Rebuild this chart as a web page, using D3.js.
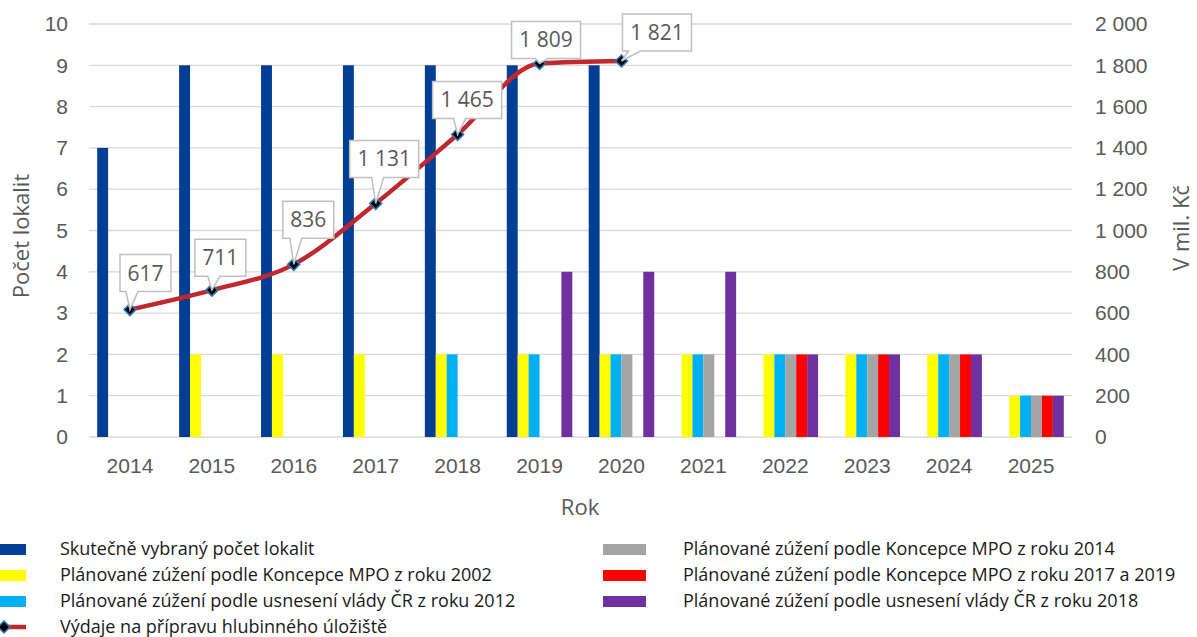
<!DOCTYPE html>
<html>
<head>
<meta charset="utf-8">
<script src="https://cdn.jsdelivr.net/npm/d3@7"></script>
<style>
  body { margin: 0; background: #fff; }
  svg { display: block; font-family: "Open Sans", "Noto Sans", sans-serif; }
</style>
</head>
<body>
<div id="root"></div>
<script>
const years = ["2014", "2015", "2016", "2017", "2018", "2019", "2020", "2021", "2022", "2023", "2024", "2025"];

const seriesNames = [
  "Skutečně vybraný počet lokalit",
  "Plánované zúžení podle Koncepce MPO z roku 2002",
  "Plánované zúžení podle usnesení vlády ČR z roku 2012",
  "Plánované zúžení podle Koncepce MPO z roku 2014",
  "Plánované zúžení podle Koncepce MPO z roku 2017 a 2019",
  "Plánované zúžení podle usnesení vlády ČR z roku 2018"
];
const actual   = [7, 9, 9, 9, 9, 9, 9, null, null, null, null, null];
const mpo2002  = [null, 2, 2, 2, 2, 2, 2, 2, 2, 2, 2, 1];
const vlada2012 = [null, null, null, null, 2, 2, 2, 2, 2, 2, 2, 1];
const mpo2014  = [null, null, null, null, null, null, 2, 2, 2, 2, 2, 1];
const mpo2017  = [null, null, null, null, null, null, null, null, 2, 2, 2, 1];
const vlada2018 = [null, null, null, null, null, 4, 4, 4, 2, 2, 2, 1];
const barSeries = [actual, mpo2002, vlada2012, mpo2014, mpo2017, vlada2018];
const colors = ["#023f94", "#ffff00", "#00b0f0", "#a5a5a5", "#ff0000", "#7030a0"];

const lineName = "Výdaje na přípravu hlubinného úložiště";
const spending = [617, 711, 836, 1131, 1465, 1809, 1821];
const leftTicks = [0, 1, 2, 3, 4, 5, 6, 7, 8, 9, 10];
const rightTicks = [0, 200, 400, 600, 800, 1000, 1200, 1400, 1600, 1800, 2000];

const W = 1197, H = 637;
const plotLeft = 89, plotRight = 1072, plotTop = 24, plotBottom = 437;

const svg = d3.select("#root").append("svg")
  .attr("width", W)
  .attr("height", H);

const x0 = d3.scaleBand().domain(years).range([plotLeft, plotRight]);
const x1 = d3.scaleBand().domain(d3.range(6))
  .range([x0.bandwidth() * 0.1, x0.bandwidth() * 0.9]);
const y = d3.scaleLinear().domain([0, 10]).range([plotBottom, plotTop]);
const y2 = d3.scaleLinear().domain([0, 2000]).range([plotBottom, plotTop]);

const fmt = v => d3.format(",")(v).replace(/,/g, "\u00a0");

// gridlines
svg.append("g")
  .selectAll("line")
  .data(leftTicks)
  .join("line")
  .attr("x1", plotLeft)
  .attr("x2", plotRight)
  .attr("y1", d => y(d))
  .attr("y2", d => y(d))
  .attr("stroke", "#d9d9d9")
  .attr("stroke-width", 1.3);

// bars
barSeries.forEach((s, si) => {
  svg.append("g")
    .selectAll("rect")
    .data(years.map((yr, i) => ({ yr, v: s[i] })).filter(d => d.v != null))
    .join("rect")
    .attr("x", d => x0(d.yr) + x1(si))
    .attr("y", d => y(d.v))
    .attr("width", x1.bandwidth())
    .attr("height", d => y(0) - y(d.v))
    .attr("fill", colors[si]);
});

// left axis
const yAxis = d3.axisLeft(y).tickValues(leftTicks).tickSize(0).tickPadding(21);
svg.append("g")
  .attr("transform", `translate(${plotLeft}, 0)`)
  .call(yAxis)
  .call(g => g.select(".domain").remove())
  .selectAll("text")
  .attr("font-size", 21)
  .attr("fill", "#595959");

// right axis
const y2Axis = d3.axisRight(y2).tickValues(rightTicks).tickFormat(fmt).tickSize(0).tickPadding(23);
svg.append("g")
  .attr("transform", `translate(${plotRight}, 0)`)
  .call(y2Axis)
  .call(g => g.select(".domain").remove())
  .selectAll("text")
  .attr("font-size", 21)
  .attr("fill", "#595959");

// x axis
const xAxis = d3.axisBottom(x0).tickSize(0).tickPadding(21);
svg.append("g")
  .attr("transform", `translate(0, ${plotBottom})`)
  .call(xAxis)
  .call(g => g.select(".domain").remove())
  .selectAll("text")
  .attr("font-size", 21)
  .attr("fill", "#595959");

// axis titles
svg.append("text")
  .attr("x", 580).attr("y", 515)
  .attr("text-anchor", "middle")
  .attr("font-size", 22)
  .attr("fill", "#595959")
  .text("Rok");

svg.append("text")
  .attr("transform", "translate(29, 236) rotate(-90)")
  .attr("text-anchor", "middle")
  .attr("font-size", 22)
  .attr("fill", "#595959")
  .text("Počet lokalit");

svg.append("text")
  .attr("transform", "translate(1189, 228) rotate(-90)")
  .attr("text-anchor", "middle")
  .attr("font-size", 22)
  .attr("fill", "#595959")
  .text("V mil. Kč");

// line
const pts = spending.map((v, i) => [x0(years[i]) + x0.bandwidth() / 2, y2(v)]);
svg.append("path")
  .attr("d", d3.line().curve(d3.curveMonotoneX)(pts))
  .attr("fill", "none")
  .attr("stroke", "#c0282f")
  .attr("stroke-width", 4.5);

svg.append("g")
  .selectAll("path")
  .data(pts)
  .join("path")
  .attr("d", d3.symbol(d3.symbolDiamond2, 90))
  .attr("transform", d => `translate(${d[0]}, ${d[1]})`)
  .attr("fill", "#000")
  .attr("stroke", "#2e75b6")
  .attr("stroke-width", 1.6);

// callout labels: box offsets relative to point [dx of left edge, dy of bottom edge]
const labelOffsets = [[-10, -18], [-17, -14], [-11, -26], [-26, -26], [-25, -16], [-28, -5], [1, -10]];
const callouts = svg.append("g");
spending.forEach((v, i) => {
  const [px, py] = pts[i];
  const txt = fmt(v);
  const bw = txt.length > 3 ? 69 : 51;
  const bh = 37;
  const bx = px + labelOffsets[i][0];
  const by = py + labelOffsets[i][1] - bh;
  const b1 = Math.max(bx + 6, Math.min(px - 4, bx + bw - 20));
  const b2 = b1 + 12;
  const path = `M${bx},${by}H${bx + bw}V${by + bh}H${b2}L${px},${py}L${b1},${by + bh}H${bx}Z`;
  callouts.append("path")
    .attr("d", path)
    .attr("fill", "#fff")
    .attr("stroke", "#bfbfbf")
    .attr("stroke-width", 1.5);
  callouts.append("text")
    .attr("x", bx + bw / 2)
    .attr("y", by + bh / 2 + 7.5)
    .attr("text-anchor", "middle")
    .attr("font-size", 21)
    .attr("fill", "#595959")
    .text(txt);
});

// legend
const legendLeft = [0, 1, 2];
const legendRight = [3, 4, 5];
const rowY = [549, 575, 601, 627];
const lg = svg.append("g").attr("font-size", 18).attr("fill", "#1a1a1a");
legendLeft.forEach((si, r) => {
  lg.append("rect").attr("x", -17).attr("y", rowY[r] - 5).attr("width", 43).attr("height", 11).attr("fill", colors[si]);
  lg.append("text").attr("x", 60).attr("y", rowY[r] + 6).text(seriesNames[si]);
});
legendRight.forEach((si, r) => {
  lg.append("rect").attr("x", 603).attr("y", rowY[r] - 5).attr("width", 43).attr("height", 11).attr("fill", colors[si]);
  lg.append("text").attr("x", 683).attr("y", rowY[r] + 6).text(seriesNames[si]);
});
lg.append("line").attr("x1", -17).attr("x2", 26).attr("y1", rowY[3]).attr("y2", rowY[3])
  .attr("stroke", "#c0282f").attr("stroke-width", 4.5);
lg.append("path").attr("d", d3.symbol(d3.symbolDiamond2, 90))
  .attr("transform", `translate(4, ${rowY[3]})`)
  .attr("fill", "#000").attr("stroke", "#2e75b6").attr("stroke-width", 1.6);
lg.append("text").attr("x", 60).attr("y", rowY[3] + 6).text(lineName);
</script>
</body>
</html>
